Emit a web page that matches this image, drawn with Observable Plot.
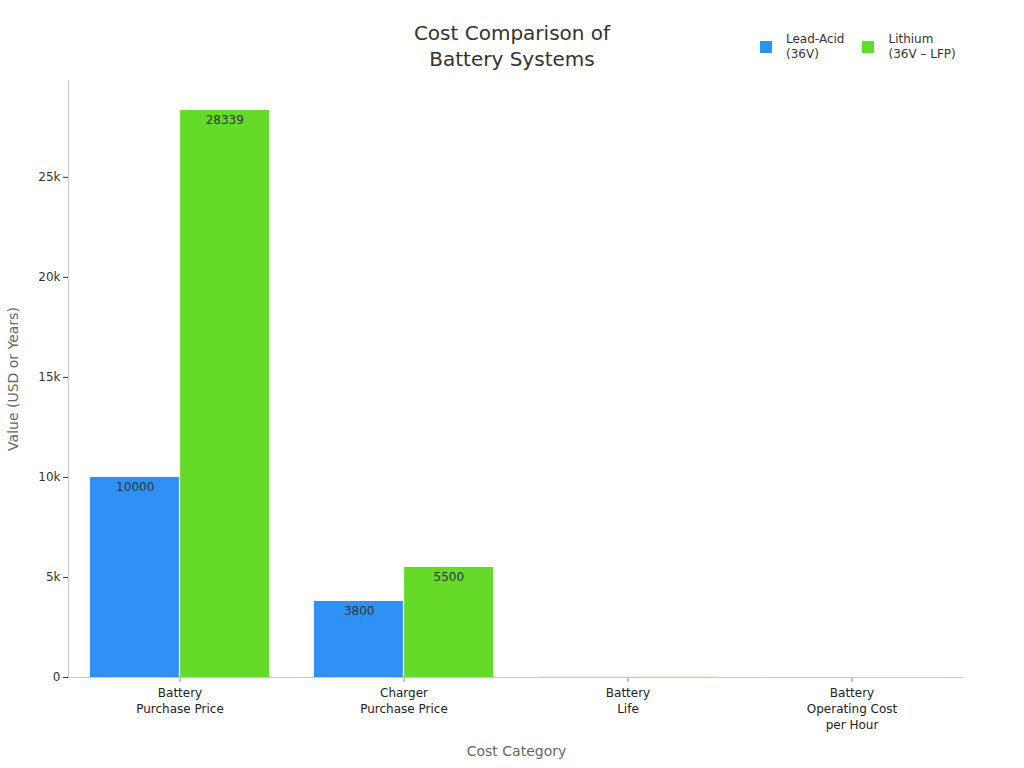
<!DOCTYPE html>
<html>
<head>
<meta charset="utf-8">
<script src="https://cdn.jsdelivr.net/npm/d3@7"></script>
<script src="https://cdn.jsdelivr.net/npm/@observablehq/plot@0.6"></script>
<style>
  html, body { margin: 0; padding: 0; background: #fff; }
  body { width: 1024px; height: 768px; font-family: "DejaVu Sans", sans-serif; }
  #header { position: relative; height: 70px; }
  #title { position: absolute; left: 0; right: 0; top: 20px; text-align: center; font-size: 20px; line-height: 26px; color: #333; }
  #legend { position: absolute; top: 32px; left: 760px; display: flex; gap: 0; font-size: 12px; color: #333; }
  .item { display: flex; align-items: center; }
  .sw { width: 12px; height: 12px; margin-right: 14px; }
  .lab { line-height: 15px; }
</style>
</head>
<body>
<div id="header">
  <div id="title">Cost Comparison of<br>Battery Systems</div>
  <div id="legend"></div>
</div>
<div id="chart"></div>
<script>
const categories = ["Battery\nPurchase Price", "Charger\nPurchase Price", "Battery\nLife", "Battery\nOperating Cost\nper Hour"];
const seriesNames = ["Lead-Acid\n(36V)", "Lithium\n(36V – LFP)"];
const leadAcid = [10000, 3800, 5, 1.2];
const lithium = [28339, 5500, 10, 0.6];
const colors = ["#2f91f6", "#66da28"];
const yTicks = [0, 5000, 10000, 15000, 20000, 25000];

const data = [];
categories.forEach((c, i) => {
  data.push({category: c, series: seriesNames[0], value: leadAcid[i]});
  data.push({category: c, series: seriesNames[1], value: lithium[i]});
});

const W = 1024, H = 698, ML = 68, MR = 60, MT = 10, MB = 91;
const step = (W - ML - MR) / categories.length;
const half = step * 0.8 / 2;

const lead = data.filter(d => d.series === seriesNames[0]);
const lith = data.filter(d => d.series === seriesNames[1]);
const labelMin = 1000;

const plot = Plot.plot({
  width: W, height: H,
  marginLeft: ML, marginRight: MR, marginTop: MT, marginBottom: MB,
  style: {fontFamily: "DejaVu Sans, sans-serif", fontSize: "12px", color: "#333", background: "#fff"},
  x: {type: "band", domain: categories, paddingInner: 0.2, paddingOuter: 0.1},
  y: {domain: [0, d3.max(data, d => d.value) * 1.053]},
  marks: [
    Plot.barY(lead, {x: "category", y: "value", fill: colors[0], insetRight: half + 0.5}),
    Plot.barY(lith, {x: "category", y: "value", fill: colors[1], insetLeft: half + 0.5}),
    Plot.text(lead.filter(d => d.value >= labelMin), {x: "category", y: "value", text: d => String(d.value), dx: -half / 2, dy: 5, lineAnchor: "top", fill: "#333", fontSize: 12}),
    Plot.text(lith.filter(d => d.value >= labelMin), {x: "category", y: "value", text: d => String(d.value), dx: half / 2, dy: 5, lineAnchor: "top", fill: "#333", fontSize: 12}),
    Plot.ruleY([0], {stroke: "#ccc"}),
    Plot.frame({anchor: "left", stroke: "#ccc"}),
    Plot.axisY({ticks: yTicks, tickFormat: d3.format("~s"), tickSize: 5, tickPadding: 3, stroke: "#333", fill: "#333",
      label: "Value (USD or Years)", labelAnchor: "center", labelArrow: "none", labelOffset: 60}),
    Plot.axisX({tickSize: 5, tickPadding: 3, stroke: "#999", fill: "#222", lineHeight: 1.35,
      label: "Cost Category", labelAnchor: "center", labelArrow: "none", labelOffset: 78})
  ]
});
document.getElementById("chart").appendChild(plot);
d3.select(plot).selectAll("[aria-label='y-axis label'] text, [aria-label='x-axis label'] text")
  .attr("fill", "#666").style("font-size", "14px");

const legend = d3.select("#legend");
seriesNames.forEach((s, i) => {
  const it = legend.append("div").attr("class", "item").style("margin-right", i === 0 ? "18px" : "0");
  it.append("div").attr("class", "sw").style("background", colors[i]);
  it.append("div").attr("class", "lab").html(s.replace("\n", "<br>"));
});
</script>
</body>
</html>
